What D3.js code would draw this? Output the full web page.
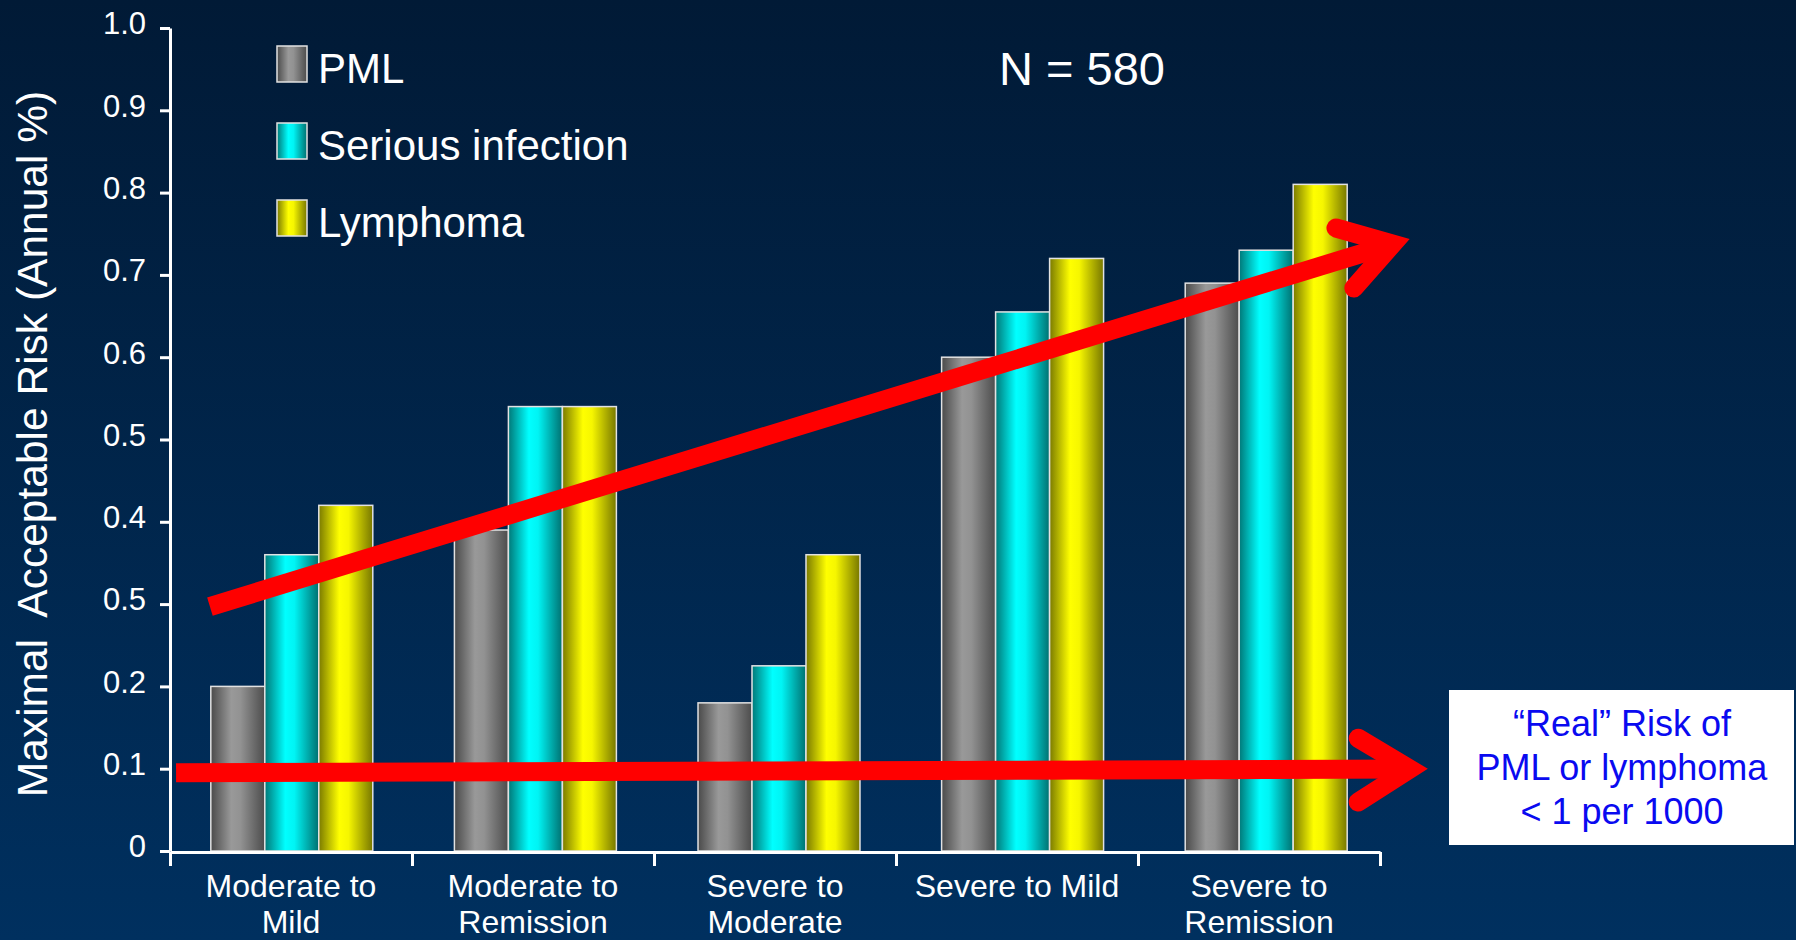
<!DOCTYPE html>
<html>
<head>
<meta charset="utf-8">
<script src="https://cdn.jsdelivr.net/npm/d3@7"></script>
<style>
  html, body { margin: 0; padding: 0; background: #00234a; }
  svg { display: block; }
  text { font-family: "Liberation Sans", Arial, Helvetica, sans-serif; }
</style>
</head>
<body>
<svg id="chart" width="1796" height="940"></svg>
<script>
// Transition categories (disease state: from -> to)
const categories = [
  "Moderate to Mild",
  "Moderate to Remission",
  "Severe to Moderate",
  "Severe to Mild",
  "Severe to Remission"
];
const categoryLines = [
  ["Moderate to", "Mild"],
  ["Moderate to", "Remission"],
  ["Severe to", "Moderate"],
  ["Severe to Mild"],
  ["Severe to", "Remission"]
];

// Maximal acceptable annual risk (%) per adverse event
const seriesNames = ["PML", "Serious infection", "Lymphoma"];
const pmlValues = [0.20, 0.39, 0.18, 0.60, 0.69];
const infectionValues = [0.36, 0.54, 0.225, 0.655, 0.73];
const lymphomaValues = [0.42, 0.54, 0.36, 0.72, 0.81];

// Y axis ticks and their printed labels
const yTickValues = [0, 0.1, 0.2, 0.3, 0.4, 0.5, 0.6, 0.7, 0.8, 0.9, 1.0];
const yTickLabels = ["0", "0.1", "0.2", "0.5", "0.4", "0.5", "0.6", "0.7", "0.8", "0.9", "1.0"];

// Trend arrows, in (category position, risk) units: shaft start, head vertex, two barb ends
const trendArrow = { start: [0.165, 0.297], tip: [5.052, 0.7375], barbs: [[4.818, 0.757], [4.892, 0.684]] };
const realRiskArrow = { start: [0.025, 0.095], tip: [5.123, 0.0996], barbs: [[4.910, 0.137], [4.910, 0.0595]] };

const seriesValues = [pmlValues, infectionValues, lymphomaValues];
const rows = categories.map((c, i) => ({
  category: c,
  values: seriesNames.map((s, j) => ({ series: s, value: seriesValues[j][i] }))
}));

const W = 1796, H = 940;
const plot = { left: 170, right: 1380, top: 28, bottom: 851 };

const svg = d3.select("#chart");
const defs = svg.append("defs");

// background
const bg = defs.append("linearGradient").attr("id", "bg")
  .attr("x1", 0).attr("y1", 0).attr("x2", 0).attr("y2", 1);
bg.append("stop").attr("offset", 0).attr("stop-color", "#011a36");
bg.append("stop").attr("offset", 1).attr("stop-color", "#00305f");
svg.append("rect").attr("width", W).attr("height", H).attr("fill", "url(#bg)");

// cylinder shading for each series
const shades = {
  "PML": ["#4a4a4a", "#999999", "#929292", "#4c4c4c"],
  "Serious infection": ["#007878", "#00ffff", "#00f4f4", "#007070"],
  "Lymphoma": ["#7a7a00", "#ffff00", "#f6f600", "#777700"]
};
const gradId = s => "g" + seriesNames.indexOf(s);
seriesNames.forEach(s => {
  const g = defs.append("linearGradient").attr("id", gradId(s))
    .attr("x1", 0).attr("y1", 0).attr("x2", 1).attr("y2", 0);
  const c = shades[s];
  [[0, c[0]], [0.38, c[1]], [0.55, c[2]], [1, c[3]]].forEach(([o, col]) =>
    g.append("stop").attr("offset", o).attr("stop-color", col));
});

// scales: group bands for the bars run slightly wider than the tick spacing
const x0 = d3.scaleBand().domain(categories).range([plot.left, plot.right + 8]).padding(0);
const x1 = d3.scaleBand().domain(seriesNames).range([0, x0.bandwidth()])
  .paddingInner(0).paddingOuter(0.756);
const xPos = d3.scaleLinear().domain([0, categories.length]).range([plot.left, plot.right]);
const y = d3.scaleLinear().domain([0, 1]).range([plot.bottom, plot.top]);

// bars
const groups = svg.append("g").selectAll("g").data(rows).join("g")
  .attr("transform", d => `translate(${x0(d.category)},0)`);
groups.selectAll("rect").data(d => d.values).join("rect")
  .attr("x", d => x1(d.series))
  .attr("y", d => y(d.value))
  .attr("width", x1.bandwidth())
  .attr("height", d => y(0) - y(d.value))
  .attr("fill", d => `url(#${gradId(d.series)})`)
  .attr("stroke", "#e2e2e2")
  .attr("stroke-width", 1.5);

// y axis
const yAxis = svg.append("g").attr("transform", `translate(${plot.left},0)`)
  .call(d3.axisLeft(y).tickValues(yTickValues)
    .tickFormat((d, i) => yTickLabels[i]).tickSize(10).tickSizeOuter(0).tickPadding(14));
yAxis.selectAll("path, line").attr("stroke", "#fff").attr("stroke-width", 3);
yAxis.selectAll("text").attr("fill", "#fff").attr("font-size", 31).attr("dy", "0.19em")
  .style("font-family", "'Liberation Sans', Arial, sans-serif");

// x axis: line with ticks on group boundaries
const xAxis = svg.append("g").attr("transform", `translate(0,${plot.bottom + 1})`)
  .call(d3.axisBottom(xPos).tickValues(d3.range(categories.length + 1))
    .tickFormat("").tickSize(14).tickSizeOuter(0));
xAxis.selectAll("path, line").attr("stroke", "#fff").attr("stroke-width", 3);

// category labels, centred under each tick interval
const catLabels = svg.append("g").selectAll("text").data(categories).join("text")
  .attr("x", (d, i) => xPos(i + 0.5))
  .attr("y", 897)
  .attr("text-anchor", "middle")
  .attr("fill", "#fff")
  .attr("font-size", 32);
catLabels.selectAll("tspan").data((d, i) => categoryLines[i]).join("tspan")
  .attr("x", function () { return d3.select(this.parentNode).attr("x"); })
  .attr("dy", (d, i) => i === 0 ? 0 : 36)
  .text(d => d);

// y axis title
svg.append("text")
  .attr("transform", "translate(47,444) rotate(-90)")
  .attr("text-anchor", "middle")
  .attr("fill", "#fff")
  .attr("font-size", 42.5)
  .style("white-space", "pre")
  .text("Maximal  Acceptable Risk (Annual %)");

// legend
const legend = svg.append("g").selectAll("g").data(seriesNames).join("g")
  .attr("transform", (d, i) => `translate(277,${46 + i * 77})`);
legend.append("rect")
  .attr("width", 30).attr("height", 36)
  .attr("fill", d => `url(#${gradId(d)})`)
  .attr("stroke", "#e2e2e2").attr("stroke-width", 1.5);
legend.append("text")
  .attr("x", 41).attr("y", 37)
  .attr("fill", "#fff").attr("font-size", 42)
  .text(d => d);

// sample size
svg.append("text")
  .attr("x", 999).attr("y", 85)
  .attr("fill", "#fff").attr("font-size", 47)
  .text("N = 580");

// red arrows
const arrowLayer = svg.append("g");
const pt = p => [xPos(p[0]), y(p[1])];
[trendArrow, realRiskArrow].forEach(a => {
  arrowLayer.append("path")
    .attr("d", d3.line()([pt(a.start), pt(a.tip)]))
    .attr("fill", "none").attr("stroke", "#ff0000")
    .attr("stroke-width", 19).attr("stroke-linecap", "butt");
  arrowLayer.append("path")
    .attr("d", d3.line()([pt(a.barbs[0]), pt(a.tip), pt(a.barbs[1])]))
    .attr("fill", "none").attr("stroke", "#ff0000")
    .attr("stroke-width", 19).attr("stroke-linecap", "round")
    .attr("stroke-linejoin", "miter").attr("stroke-miterlimit", 6);
});

// note box
const note = svg.append("g");
note.append("rect")
  .attr("x", 1449).attr("y", 690).attr("width", 345).attr("height", 155)
  .attr("fill", "#ffffff");
note.append("text")
  .attr("text-anchor", "middle").attr("fill", "#0a0af0").attr("font-size", 36)
  .selectAll("tspan")
  .data(["\u201CReal\u201D Risk of", "PML or lymphoma", "< 1 per 1000"])
  .join("tspan")
  .attr("x", 1622)
  .attr("y", (d, i) => 736 + i * 44)
  .text(d => d);
</script>
</body>
</html>
